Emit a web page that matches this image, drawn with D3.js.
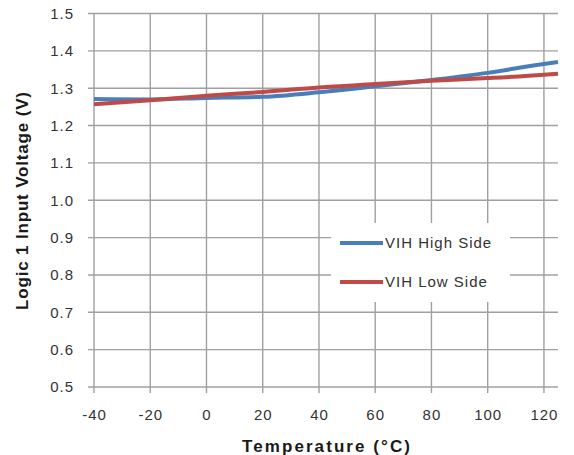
<!DOCTYPE html>
<html><head><meta charset="utf-8">
<script src="https://cdn.jsdelivr.net/npm/d3@7"></script>
<style>body{margin:0;background:#fff}svg{display:block}</style>
</head><body>
<svg id="c" width="574" height="455"></svg>
<script>
const temps = [-40, -20, 0, 20, 40, 60, 80, 100, 120, 125];
const vihHigh = [1.271, 1.270, 1.274, 1.277, 1.289, 1.305, 1.322, 1.341, 1.365, 1.370];
const vihLow  = [1.257, 1.268, 1.280, 1.290, 1.302, 1.311, 1.320, 1.327, 1.336, 1.339];
const xTicks = [-40, -20, 0, 20, 40, 60, 80, 100, 120];
const yTicks = [0.5, 0.6, 0.7, 0.8, 0.9, 1.0, 1.1, 1.2, 1.3, 1.4, 1.5];
const seriesNames = ["VIH High Side", "VIH Low Side"];
const colors = ["#4a7ebb", "#be4b48"];

const svg = d3.select("#c");
const x = d3.scaleLinear().domain([-40, 125]).range([94, 558]);
const y = d3.scaleLinear().domain([0.5, 1.5]).range([387, 13.5]);
const grid = "#a0a0a0";
const font = "'Liberation Sans', Arial, sans-serif";

svg.append("g").selectAll("line").data(yTicks).join("line")
  .attr("x1", 88).attr("x2", 558)
  .attr("y1", d => y(d)).attr("y2", d => y(d))
  .attr("stroke", grid).attr("stroke-width", 1.4);
svg.append("g").selectAll("line").data(xTicks).join("line")
  .attr("x1", d => x(d)).attr("x2", d => x(d))
  .attr("y1", 13.5).attr("y2", 393)
  .attr("stroke", grid).attr("stroke-width", 1.4);

svg.append("g").selectAll("text").data(yTicks).join("text")
  .attr("x", 74).attr("y", d => y(d)).attr("dy", "0.36em")
  .attr("text-anchor", "end")
  .attr("font-family", font).attr("font-size", 15).attr("letter-spacing", "1px")
  .attr("fill", "#333")
  .text(d => d.toFixed(1));
svg.append("g").selectAll("text").data(xTicks).join("text")
  .attr("x", d => x(d) + 0.5).attr("y", 420)
  .attr("text-anchor", "middle")
  .attr("font-family", font).attr("font-size", 15).attr("letter-spacing", "1px")
  .attr("fill", "#333")
  .text(d => d);

const line = d3.line().x(d => x(d[0])).y(d => y(d[1])).curve(d3.curveMonotoneX);
[vihHigh, vihLow].forEach((vals, i) => {
  svg.append("path")
    .datum(temps.map((t, j) => [t, vals[j]]))
    .attr("d", line)
    .attr("fill", "none")
    .attr("stroke", colors[i])
    .attr("stroke-width", 4);
});

svg.append("rect").attr("x", 331).attr("y", 223).attr("width", 179).attr("height", 79).attr("fill", "#fff");
const legY = [243, 282];
seriesNames.forEach((n, i) => {
  svg.append("line").attr("x1", 340).attr("x2", 383).attr("y1", legY[i]).attr("y2", legY[i])
    .attr("stroke", colors[i]).attr("stroke-width", 4);
  svg.append("text").attr("x", 385).attr("y", legY[i]).attr("dy", "0.36em")
    .attr("font-family", font).attr("font-size", 15).attr("letter-spacing", "1px")
    .attr("fill", "#333").text(n);
});

svg.append("text").attr("x", 326).attr("y", 452).attr("text-anchor", "middle")
  .attr("font-family", font).attr("font-size", 17).attr("font-weight", "bold")
  .attr("textLength", 168).attr("lengthAdjust", "spacing")
  .attr("fill", "#1a1a1a").text("Temperature (°C)");
svg.append("text").attr("transform", "translate(28,201) rotate(-90)").attr("text-anchor", "middle")
  .attr("font-family", font).attr("font-size", 17).attr("font-weight", "bold")
  .attr("textLength", 218).attr("lengthAdjust", "spacing")
  .attr("fill", "#1a1a1a").text("Logic 1 Input Voltage (V)");
</script>
</body></html>
